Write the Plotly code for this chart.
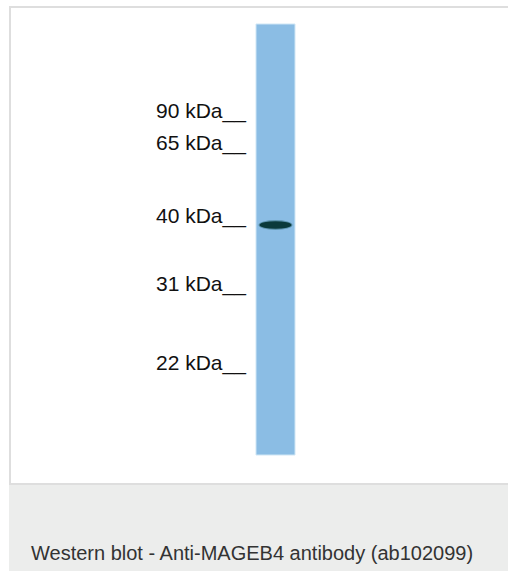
import plotly.graph_objects as go

# molecular weight ladder, as printed beside the lane
marker_labels = ["90 kDa", "65 kDa", "40 kDa", "31 kDa", "22 kDa"]
marker_migration = [95, 127, 200, 268, 347]   # distance run from the well

# the single sample lane and its band
lane_names = ["lane 1"]
lane_length = [431]
band_migration = [201]
band_label = ["MAGEB4"]

caption = "Western blot - Anti-MAGEB4 antibody (ab102099)"

W, H = 508, 571
well_top = 24          # pixel row of the top of the lane
lane_x = 275.5
lane_w = 39


def px(x):
    return x / W


def py(y):
    return 1 - y / H


fig = go.Figure()

fig.add_trace(
    go.Bar(x = [lane_x],
           y = lane_length,
           base = [0],
           width = [lane_w],
           name = lane_names[0],
           marker = dict(color = '#8bbde4', line = dict(color = '#cfe6f5', width = 1)),
           hoverinfo = 'skip'))

shapes = []
# frame round the blot and grey caption strip
shapes.append(dict(type = 'rect', xref = 'paper', yref = 'paper',
                   x0 = px(10), x1 = px(W + 5), y0 = py(7), y1 = py(484),
                   line = dict(color = '#dedede', width = 2), layer = 'below'))
shapes.append(dict(type = 'rect', xref = 'paper', yref = 'paper',
                   x0 = px(9), x1 = px(W + 5), y0 = py(485), y1 = py(H + 5),
                   fillcolor = '#ecedec', line = dict(width = 0), layer = 'below'))

for m in band_migration:
    shapes.append(dict(type = 'circle', xref = 'x', yref = 'y',
                       x0 = lane_x - 17, x1 = lane_x + 17, y0 = m - 5, y1 = m + 5,
                       fillcolor = '#2f6b7a', opacity = 0.5, line = dict(width = 0)))
    shapes.append(dict(type = 'circle', xref = 'x', yref = 'y',
                       x0 = lane_x - 16, x1 = lane_x + 16, y0 = m - 3.8, y1 = m + 3.8,
                       fillcolor = '#0b3a3b', line = dict(width = 0)))

annotations = []
for lab, m in zip(marker_labels, marker_migration):
    annotations.append(dict(x = 248, y = m, xref = 'x', yref = 'y',
                            text = lab + "__", showarrow = False,
                            xanchor = 'right', yanchor = 'bottom', yshift = -6,
                            font = dict(family = 'Liberation Sans, Arial', size = 21, color = '#111111')))

annotations.append(dict(x = px(29), y = py(553), xref = 'paper', yref = 'paper',
                        text = caption, showarrow = False,
                        xanchor = 'left', yanchor = 'middle',
                        font = dict(family = 'Liberation Sans, Arial', size = 20, color = '#333333')))

fig.update_layout(width = W,
                  height = H,
                  margin = dict(l = 0, r = 0, t = 0, b = 0),
                  paper_bgcolor = 'white',
                  plot_bgcolor = 'rgba(0,0,0,0)',
                  showlegend = False,
                  shapes = shapes,
                  annotations = annotations,
                  xaxis = dict(range = [0, W], visible = False, fixedrange = True),
                  yaxis = dict(range = [H - well_top, -well_top], visible = False, fixedrange = True))

fig.write_html("out.html", config = dict(displayModeBar = False),
               post_script = "document.body.style.margin = '0';")
